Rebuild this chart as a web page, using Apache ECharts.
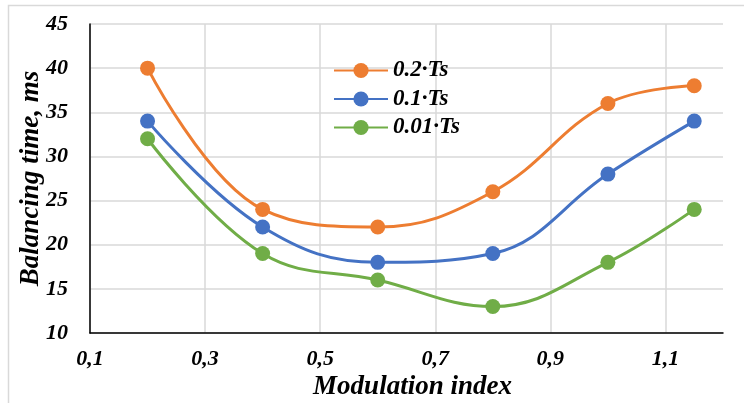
<!DOCTYPE html>
<html>
<head>
<meta charset="utf-8">
<script src="https://cdn.jsdelivr.net/npm/echarts@6/dist/echarts.min.js"></script>
<style>
html,body{margin:0;padding:0;background:#fff;}
#c{width:744px;height:403px;}
</style>
</head>
<body>
<div id="c"></div>
<script>
var xValues = [0.2, 0.4, 0.6, 0.8, 1.0, 1.15];
var s02 = [40, 24, 22, 26, 36, 38];
var s01 = [34, 22, 18, 19, 28, 34];
var s001 = [32, 19, 16, 13, 18, 24];
var seriesNames = ['0.2\u00B7Ts', '0.1\u00B7Ts', '0.01\u00B7Ts'];
var xTicks = [0.1, 0.3, 0.5, 0.7, 0.9, 1.1];
var colors = ['#ED7D31', '#4472C4', '#70AD47'];

var FONT = '"Liberation Serif", "Times New Roman", serif';
function pairs(ys){ return xValues.map(function(x,i){ return [x, ys[i]]; }); }
function mk(name, ys, color){
  return {
    name: name, type: 'line', data: pairs(ys), smooth: 0.4,
    symbol: 'circle', symbolSize: 15,
    lineStyle: {width: 3, color: color},
    itemStyle: {color: color},
    emphasis: {disabled: true}
  };
}
var chart = echarts.init(document.getElementById('c'), null, {renderer: 'canvas'});
chart.setOption({
  animation: false,
  backgroundColor: '#fff',
  graphic: [{
    type: 'rect', shape: {x: 8.5, y: 5.5, width: 800, height: 500},
    style: {fill: 'none', stroke: '#d9d9d9', lineWidth: 1.5}, z: -10
  }],
  grid: {left: 90, right: 21, top: 24, bottom: 70, containLabel: false, outerBoundsMode: 'none'},
  legend: {
    orient: 'vertical', left: 328, top: 54, itemGap: 5.5,
    itemWidth: 54, itemHeight: 19,
    data: seriesNames,
    textStyle: {fontFamily: FONT, fontSize: 23, fontWeight: 'bold', fontStyle: 'italic', color: '#000'}
  },
  xAxis: {
    type: 'value', min: 0.1, max: 1.2,
    name: 'Modulation index', nameLocation: 'middle', nameGap: 41, nameMoveOverlap: false,
    nameTextStyle: {fontFamily: FONT, fontSize: 27, fontWeight: 'bold', fontStyle: 'italic', color: '#000', padding: [0,0,0,12]},
    axisLine: {show: true, onZero: false, lineStyle: {color: '#000', width: 1.5}},
    axisTick: {show: false, customValues: xTicks},
    axisLabel: {customValues: xTicks, margin: 15, fontFamily: FONT, fontSize: 22, fontWeight: 'bold', fontStyle: 'italic', color: '#000',
      formatter: function(v){ return v.toFixed(1).replace('.', ','); }},
    splitLine: {show: true, lineStyle: {color: '#d9d9d9', width: 1.5}}
  },
  yAxis: {
    type: 'value', min: 10, max: 45, interval: 5,
    name: 'Balancing time, ms', nameLocation: 'middle', nameGap: 45, nameMoveOverlap: false,
    nameTextStyle: {fontFamily: FONT, fontSize: 27, fontWeight: 'bold', fontStyle: 'italic', color: '#000'},
    axisLine: {show: true, lineStyle: {color: '#000', width: 1.5}},
    axisTick: {show: false},
    axisLabel: {margin: 22, fontFamily: FONT, fontSize: 22, fontWeight: 'bold', fontStyle: 'italic', color: '#000'},
    splitLine: {show: true, lineStyle: {color: '#d9d9d9', width: 1.5}}
  },
  series: [mk(seriesNames[0], s02, colors[0]), mk(seriesNames[1], s01, colors[1]), mk(seriesNames[2], s001, colors[2])]
});
</script>
</body>
</html>
